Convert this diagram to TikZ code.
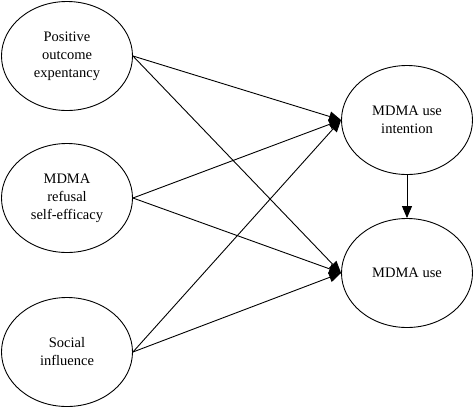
\documentclass[tikz,border=0pt]{standalone}
\usepackage{fontspec}
\setmainfont{Liberation Serif}
\usetikzlibrary{shapes.geometric,arrows.meta}
\begin{document}
\begin{tikzpicture}[x=1pt,y=-1pt,
  var/.style={draw,ellipse,line width=0.9pt,minimum width=131pt,minimum height=109pt,inner sep=0pt,align=center,font=\fontsize{14.5}{18}\selectfont},
  path/.style={line width=0.9pt,-{Triangle[length=12pt,width=10pt]}}]
\useasboundingbox (0,0) rectangle (474,408);
\node[var] (po) at (67,56) {Positive\\outcome\\expentancy};
\node[var] (re) at (67,198) {MDMA\\refusal\\self-efficacy};
\node[var] (si) at (67,352) {Social\\influence};
\node[var] (in) at (407,120) {MDMA use\\intention};
\node[var] (us) at (407,273) {MDMA use};
\draw[path] (po.east) -- (in.west);
\draw[path] (po.east) -- (us.west);
\draw[path] (re.east) -- (in.west);
\draw[path] (re.east) -- (us.west);
\draw[path] (si.east) -- (in.west);
\draw[path] (si.east) -- (us.west);
\draw[path] (in.south) -- (us.north);
\end{tikzpicture}
\end{document}
